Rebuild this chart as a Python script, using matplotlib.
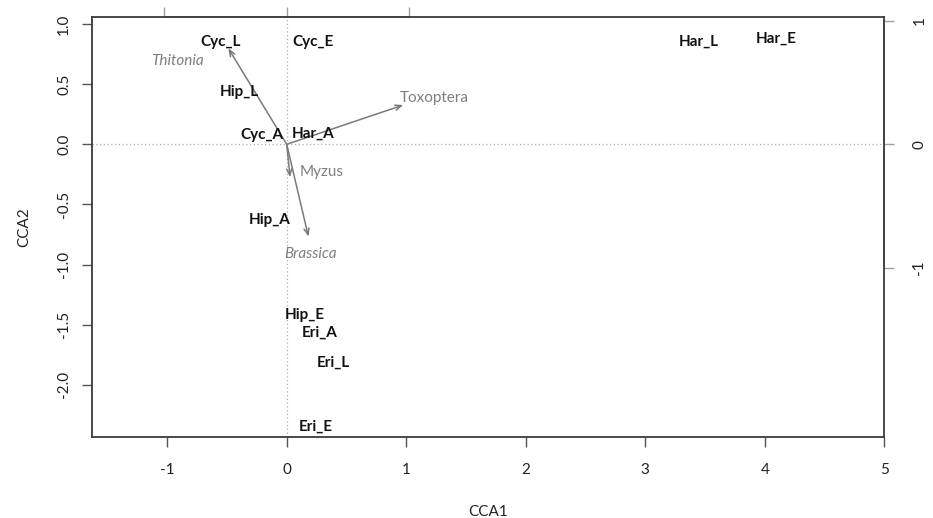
import matplotlib
matplotlib.use("Agg")
import matplotlib.pyplot as plt

# ---- data ----
site_labels = ["Cyc_L", "Cyc_E", "Hip_L", "Cyc_A", "Har_A", "Hip_A", "Hip_E",
               "Eri_A", "Eri_L", "Eri_E", "Har_L", "Har_E"]
site_x = [-0.552, 0.223, -0.393, -0.207, 0.223, -0.142, 0.147, 0.279, 0.387, 0.243, 3.45, 4.097]
site_y = [0.853, 0.853, 0.437, 0.077, 0.091, -0.629, -1.419, -1.563, -1.812, -2.347, 0.853, 0.875]

arrow_names = ["Thitonia", "Toxoptera", "Myzus", "Brassica"]
arrow_x = [-0.477, 0.952, 0.027, 0.177]     # biplot scores (arrow scale)
arrow_y = [0.779, 0.319, -0.267, -0.749]
arrow_lab_x = [-0.912, 1.233, 0.293, 0.201]  # label positions (CCA1 scale)
arrow_lab_y = [0.692, 0.384, -0.228, -0.912]
arrow_italic = [True, False, False, True]
arrow_mul = 1.025

xticks = [-1, 0, 1, 2, 3, 4, 5]
yticks = [1.0, 0.5, 0.0, -0.5, -1.0, -1.5, -2.0]
arrow_ticks = [-1, 0, 1]

FONT = "Lato"
plt.rcParams["font.family"] = [FONT, "DejaVu Sans"]

W, H = 933, 518
fig = plt.figure(figsize=(W / 100, H / 100), dpi=100)
x0, x1, y0, y1 = 92.3, 884.3, 17.3, 436.7
ax = fig.add_axes([x0 / W, 1 - y1 / H, (x1 - x0) / W, (y1 - y0) / H])
ax.set_xlim(-1.627, 5.0)
ax.set_ylim(-2.431, 1.056)

box_col = "#3a3a3a"
for s in ax.spines.values():
    s.set_color(box_col)
    s.set_linewidth(1.3)

ax.axhline(0, ls=(0, (1, 2)), color="#b0b0b0", lw=0.9, zorder=0)
ax.axvline(0, ls=(0, (1, 2)), color="#b0b0b0", lw=0.9, zorder=0)

# arrows
arr_col = "#7a7a7a"
for nm, ax_, ay_, lx, ly, it in zip(arrow_names, arrow_x, arrow_y, arrow_lab_x, arrow_lab_y, arrow_italic):
    ax.annotate("", xy=(ax_ * arrow_mul, ay_ * arrow_mul), xytext=(0, 0),
                arrowprops=dict(arrowstyle="->,head_length=0.45,head_width=0.18",
                                color=arr_col, lw=1.1, shrinkA=0, shrinkB=0))
    ax.text(lx, ly, nm, color="#7f7f7f", fontsize=11, ha="center", va="center",
            style="italic" if it else "normal")

# site labels
for lab, x, y in zip(site_labels, site_x, site_y):
    ax.text(x, y, lab, fontsize=11, fontweight="bold", ha="center", va="center", color="#111111")

# main axes ticks
ax.set_xticks(xticks)
ax.set_xticklabels([f"{t:g}" for t in xticks])
ax.set_yticks(yticks)
ax.set_yticklabels([f"{t:.1f}" for t in yticks], rotation=90, va="center")
ax.tick_params(axis="both", length=7.2, width=1.0, color="#555555", labelsize=11, labelcolor="#222222")
ax.tick_params(axis="x", pad=12)
ax.tick_params(axis="y", pad=8)
ax.set_xlabel("CCA1", fontsize=11, labelpad=20, color="#222222")
ax.set_ylabel("CCA2", fontsize=11, labelpad=19, color="#222222")

# secondary axes for biplot arrow scale
sec_col = "#a0a0a0"
top = ax.secondary_xaxis("top", functions=(lambda v: v / arrow_mul, lambda v: v * arrow_mul))
top.set_xticks(arrow_ticks)
top.tick_params(length=7.2, width=1.0, color=sec_col, labeltop=False)
top.spines["top"].set_bounds(-1, 1)
top.spines["top"].set_color(sec_col)
top.spines["top"].set_linewidth(1.3)

right = ax.secondary_yaxis("right", functions=(lambda v: v / arrow_mul, lambda v: v * arrow_mul))
right.set_yticks(arrow_ticks)
right.set_yticklabels([f"{t:g}" for t in arrow_ticks], rotation=90, va="center")
right.tick_params(length=7.2, width=1.0, color=sec_col, labelsize=11, labelcolor="#222222", pad=13)
right.spines["right"].set_bounds(-1, 1)
right.spines["right"].set_color(sec_col)
right.spines["right"].set_linewidth(1.3)

fig.savefig("out.png", dpi=100)
